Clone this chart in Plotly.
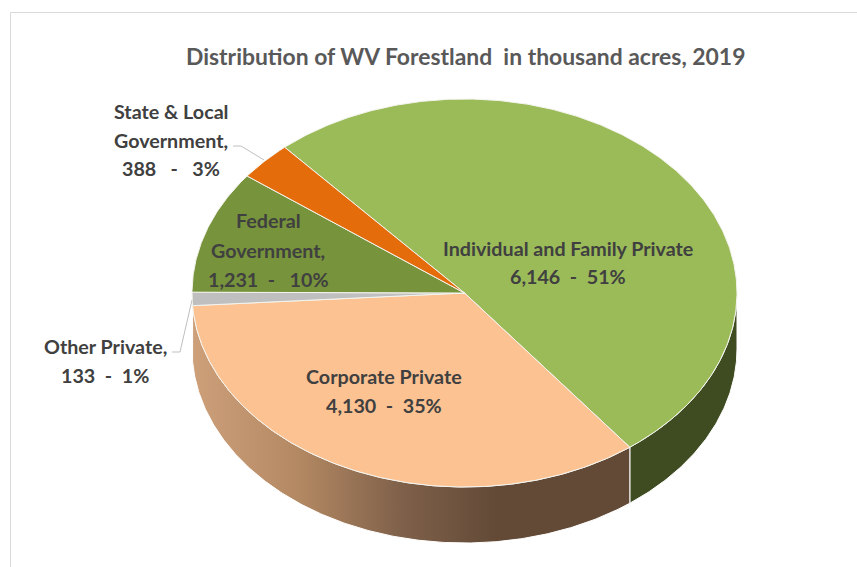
import math
import plotly.graph_objects as go

# ---- data ----
categories = ["Individual and Family Private", "Corporate Private", "Other Private",
              "Federal Government", "State & Local Government"]
values = [6146, 4130, 133, 1231, 388]
label_texts = [
    ["Individual and Family Private", "6,146  -  51%"],
    ["Corporate Private", "4,130  -  35%"],
    ["Other Private,", "133  -  1%"],
    ["Federal", "Government,", "1,231  -   10%"],
    ["State & Local", "Government,", "388   -   3%"],
]
colors = ["#9BBB59", "#FCC292", "#BFBFBF", "#77933C", "#E46C0A"]
title_text = "Distribution of WV Forestland\u00a0\u00a0in thousand acres, 2019"

# ---- geometry of the tilted pie ----
W, H = 857, 567
CX, CY, RX, RY = 464.5, 293.0, 272.5, 194.0
DEPTH = 56.0 / RY          # extrusion, in units of the vertical radius
START = -41.3              # degrees clockwise from 12 o'clock


def arc(a0, a1, n=120, drop=0.0):
    steps = max(2, int(abs(a1 - a0) / 360 * n) + 2)
    xs, ys = [], []
    for i in range(steps):
        t = math.radians(a0 + (a1 - a0) * i / (steps - 1))
        xs.append(math.sin(t))
        ys.append(math.cos(t) - drop)
    return xs, ys


total = sum(values)
edges = [START]
for v in values:
    edges.append(edges[-1] + v / total * 360)

fig = go.Figure()


def side(a0, a1, name, **kw):
    x1, y1 = arc(a0, a1, 720)
    x2, y2 = arc(a1, a0, 720, DEPTH)
    fig.add_trace(go.Scatter(
        x=x1 + x2 + x1[:1], y=y1 + y2 + y1[:1], mode="lines", fill="toself",
        line=dict(color="#FFFFFF", width=1), name=name, hoverinfo="name",
        showlegend=False, **kw))


def ux(px):
    return (px - CX) / RX


# front wall: individual/family (dark green) and corporate (brown gradient)
side(90, edges[1], categories[0], fillcolor="#3F4B21")
side(edges[1], edges[2], categories[1], fillgradient=dict(
    type="horizontal", start=ux(192), stop=ux(737),
    colorscale=[[0.0, "#CDA07A"], [0.2, "#B28862"], [0.38, "#80614A"],
                [0.56, "#624A37"], [1.0, "#624A37"]]))

# top faces
for i, name in enumerate(categories):
    xs, ys = arc(edges[i], edges[i + 1], 720)
    fig.add_trace(go.Scatter(
        x=[0] + xs + [0], y=[0] + ys + [0], mode="lines", fill="toself",
        fillcolor=colors[i], line=dict(color="#F4F4EE", width=1),
        name=name, hoverinfo="name", showlegend=False))

# leader lines
for pts in ([(233, 146), (241, 146), (264, 160)],
            [(172, 352), (180, 352), (192, 300)]):
    fig.add_trace(go.Scatter(
        x=[ux(p[0]) for p in pts], y=[(CY - p[1]) / RY for p in pts], mode="lines",
        line=dict(color="#BFBFBF", width=1), hoverinfo="skip", showlegend=False))

layout_ax = dict(visible=False, fixedrange=True)
fig.update_layout(
    width=W, height=H, margin=dict(l=0, r=0, t=0, b=0),
    paper_bgcolor="#FFFFFF", plot_bgcolor="#FFFFFF",
    xaxis=dict(range=[ux(0), ux(W)], **layout_ax),
    yaxis=dict(range=[(CY - H) / RY, CY / RY], **layout_ax),
    font=dict(family="Lato, 'Open Sans', sans-serif"),
)

# chart frame
fig.add_shape(type="rect", xref="paper", yref="paper", layer="below",
              x0=10.5 / W, x1=1.2, y0=-0.2, y1=1 - 12.5 / H,
              line=dict(color="#D9D9D9", width=1), fillcolor="#FFFFFF")


def note(text, px, py, size=19.7, color="#404040"):
    fig.add_annotation(text="<b>%s</b>" % text, xref="paper", yref="paper",
                       x=px / W, y=1 - py / H, xanchor="center", yanchor="middle",
                       showarrow=False, align="center",
                       font=dict(size=size, color=color))


note(title_text, 465, 56, size=22.9, color="#595959")
LINE = 29
label_first_line = [(568, 248), (384, 376), (105, 346), (268, 221), (171, 111)]
for lines, (px, py) in zip(label_texts, label_first_line):
    for k, line in enumerate(lines):
        note(line, px, py + k * LINE)

fig.write_html("out.html", config=dict(displayModeBar=False),
               post_script="document.body.style.margin='0';")
